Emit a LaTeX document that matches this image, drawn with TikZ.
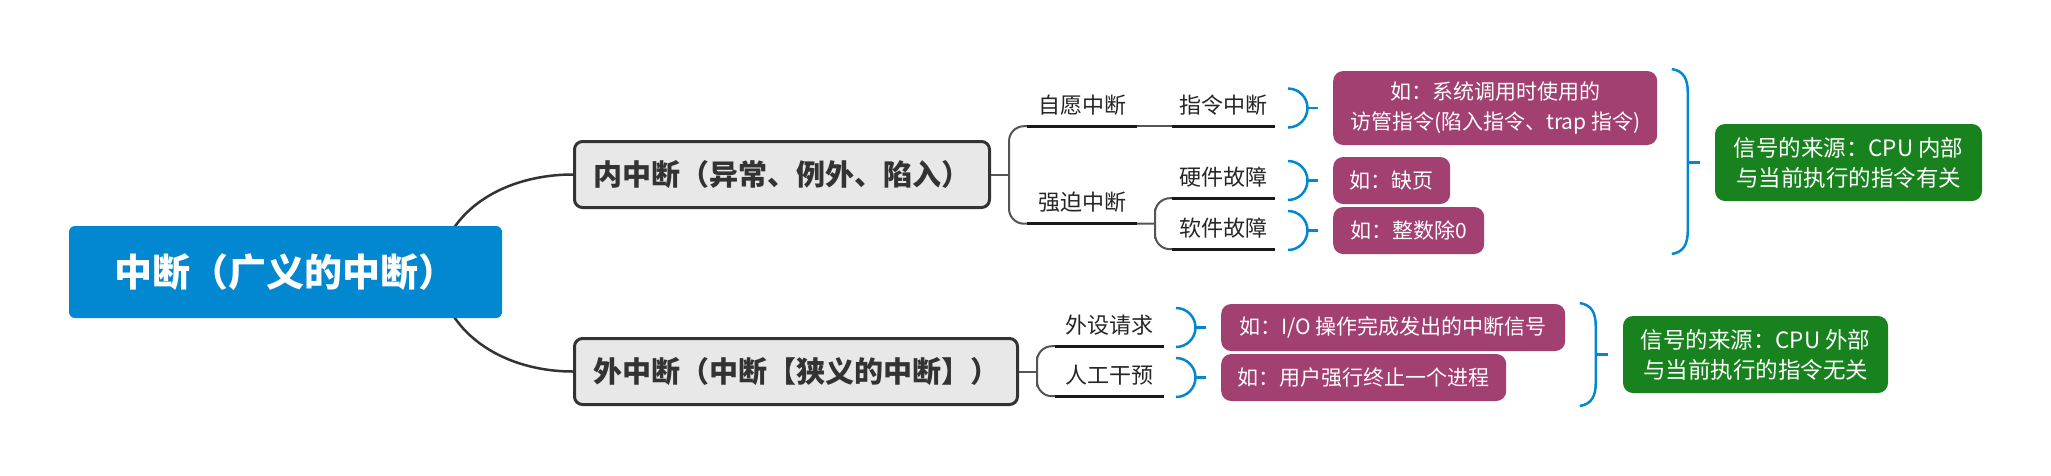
\documentclass[tikz,border=0pt]{standalone}
\usepackage{fontspec}
\setmainfont{Noto Sans CJK SC}
\usetikzlibrary{calc}
\usetikzlibrary{backgrounds}

\definecolor{rootblue}{RGB}{2,136,209}
\definecolor{leafpurple}{RGB}{162,64,114}
\definecolor{notegreen}{RGB}{24,130,30}
\definecolor{boxgray}{RGB}{232,232,232}
\definecolor{linegray}{RGB}{85,85,85}

\tikzset{
  rootbox/.style={fill=rootblue, rounded corners=6pt, text=white, font=\fontsize{38}{44}\selectfont\bfseries, minimum width=433pt, minimum height=92pt, inner sep=0pt},
  mainbox/.style={fill=boxgray, draw=black!80, line width=3pt, rounded corners=8pt, text=black!80, font=\fontsize{29}{34}\selectfont\bfseries, minimum height=66pt, inner sep=0pt},
  sublabel/.style={minimum height=42pt, inner sep=0pt, text=black!85, font=\fontsize{22}{26}\selectfont},
  leafbox/.style={fill=leafpurple, rounded corners=10pt, text=white, font=\fontsize{21}{30}\selectfont, align=center, inner sep=0pt, anchor=west},
  notebox/.style={fill=notegreen, rounded corners=10pt, text=white, font=\fontsize{22.5}{30}\selectfont, align=center, minimum width=267pt, minimum height=77pt, inner sep=0pt},
  trunk/.style={line width=2.5pt, draw=black!80},
  twig/.style={line width=2pt, draw=linegray},
  uline/.style={line width=3pt, draw=black!90},
  brc/.style={line width=2.5pt, draw=rootblue},
}

\begin{document}
\begin{tikzpicture}[x=1pt,y=1pt]
\useasboundingbox (0,0) rectangle (2051,-475);

\node[rootbox] (root) at (285.5,-272) {中断（广义的中断）};
\node[mainbox, minimum width=415pt] (inn) at (782,-174.5) {内中断（异常、例外、陷入）};
\node[mainbox, minimum width=443pt] (outr) at (796,-371.5) {外中断（中断【狭义的中断】）};

\node[sublabel, minimum width=110pt] (zy) at (1082,-105) {自愿中断};
\node[sublabel, minimum width=103pt] (zl) at (1223.5,-105) {指令中断};
\node[sublabel, minimum width=110pt] (qp) at (1082,-202.5) {强迫中断};
\node[sublabel, minimum width=103pt] (yj) at (1223.5,-177) {硬件故障};
\node[sublabel, minimum width=103pt] (rj) at (1223.5,-228) {软件故障};
\node[sublabel, minimum width=109pt] (ws) at (1109.5,-325) {外设请求};
\node[sublabel, minimum width=109pt] (rg) at (1109.5,-375) {人工干预};

\node[leafbox, minimum width=324pt, minimum height=74pt] (e1) at (1333,-108) {如：系统调用时使用的\\访管指令(陷入指令、trap 指令)};
\node[leafbox, minimum width=117pt, minimum height=47pt] (e2) at (1333,-180.5) {如：缺页};
\node[leafbox, minimum width=151pt, minimum height=47pt] (e3) at (1333,-230.5) {如：整数除0};
\node[leafbox, minimum width=344pt, minimum height=47pt] (e4) at (1221,-327.5) {如：I/O 操作完成发出的中断信号};
\node[leafbox, minimum width=285pt, minimum height=47pt] (e5) at (1221,-377.5) {如：用户强行终止一个进程};

\node[notebox] (g1) at (1848.5,-162.5) {信号的来源：CPU 内部\\与当前执行的指令有关};
\node[notebox, minimum width=265pt] (g2) at (1755.5,-354.5) {信号的来源：CPU 外部\\与当前执行的指令无关};

\coordinate (rc) at (437,-272);
\coordinate (b1) at (1009,-174.5);
\coordinate (b2) at (1155,-223.5);
\coordinate (b3) at (1037,-371.5);

\begin{scope}[on background layer]
\fill[white] (0,0) rectangle (2051,-475);
\draw[trunk] (rc) to[out=82,in=180] (inn.west);
\draw[trunk] (rc) to[out=-82,in=180] (outr.west);
\end{scope}

\draw[twig] (inn.east) -- (b1);
\draw[twig, rounded corners=15pt] (zy.south west) -| (b1) |- (qp.south west);
\draw[twig] (zy.south east) -- (zl.south west);
\draw[twig] (qp.south east) -- (b2);
\draw[twig, rounded corners=15pt] (yj.south west) -| (b2) |- (rj.south west);
\draw[twig] (outr.east) -- (b3);
\draw[twig, rounded corners=15pt] (ws.south west) -| (b3) |- (rg.south west);

\foreach \n in {zy,zl,qp,yj,rj,ws,rg}
  \draw[uline] (\n.south west) -- (\n.south east);

\foreach \n in {e1,e2,e3,e4,e5}{
  \draw[brc] ($(\n.west)+(-45,19.5)$) arc[start angle=90, end angle=-90, radius=19.5];
  \draw[brc] ($(\n.west)+(-25.5,0)$) -- ($(\n.west)+(-15,0)$);
}

\foreach \g/\t/\b in {g1/93.5/91.5, g2/51.5/51.5}{
  \draw[brc] ($(\g.west)+(-43,\t)$) .. controls ($(\g.west)+(-31,\t-2)$) and ($(\g.west)+(-27,\t-10)$) .. ($(\g.west)+(-27,\t-24)$) -- ($(\g.west)+(-27,-\b+24)$) .. controls ($(\g.west)+(-27,-\b+10)$) and ($(\g.west)+(-31,-\b+2)$) .. ($(\g.west)+(-43,-\b)$);
  \draw[brc] ($(\g.west)+(-27,0)$) -- ($(\g.west)+(-15,0)$);
}
\end{tikzpicture}
\end{document}
